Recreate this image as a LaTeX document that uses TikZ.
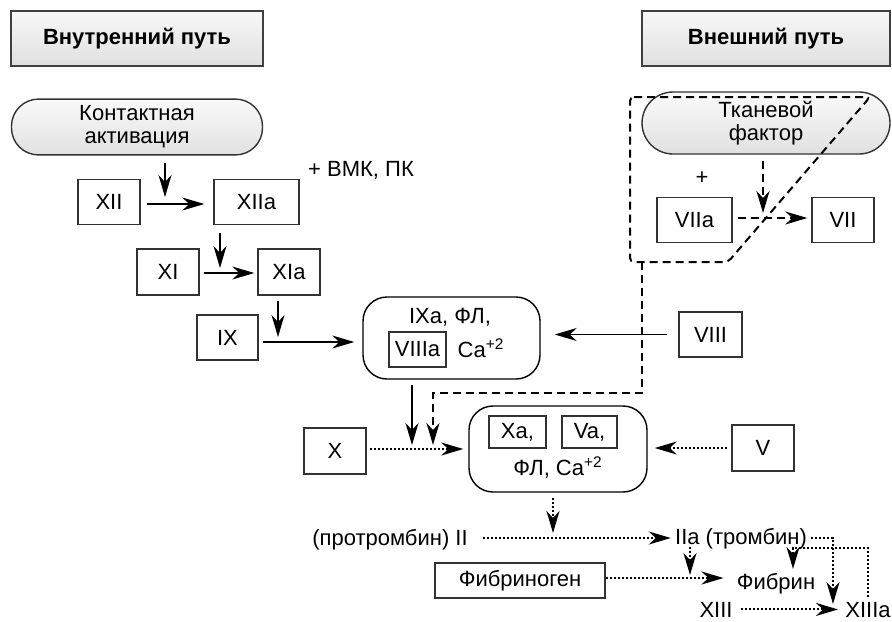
\documentclass[tikz,border=0pt]{standalone}
\usepackage{fontspec}
\setmainfont{Liberation Sans}
\usetikzlibrary{arrows.meta}

\newcommand{\fsz}{\fontsize{11}{11.5}\selectfont}

\tikzset{
  box/.style={draw=black!80, line width=0.7pt, minimum height=22.5pt, inner sep=0pt},
  hdr/.style={draw=black!75, line width=0.7pt, top color=black!3, bottom color=black!12,
              minimum height=27.5pt, font=\fsz\bfseries},
  pill/.style={draw=black!80, line width=0.7pt, top color=black!2, bottom color=black!12,
               minimum height=27.5pt, rounded corners=13.5pt, align=center},
  cplx/.style={draw=black, line width=0.7pt, rounded corners=12pt},
  lbl/.style={inner sep=2pt},
  arr/.style={-{Stealth[length=11pt, width=6.5pt, inset=3.5pt]}, line width=0.6pt},
  dotarr/.style={arr, line width=1pt, dash pattern=on 1pt off 1pt},
  dasharr/.style={arr, line width=1pt, dash pattern=on 4pt off 2.5pt},
  dashln/.style={line width=1pt, dash pattern=on 4pt off 2.5pt, rounded corners=2pt},
}

\begin{document}
\begin{tikzpicture}[x=0.5pt, y=-0.5pt, font=\fsz]

  \useasboundingbox (0,0) rectangle (892,621);

  % ================= headers =================
  \node[hdr, minimum width=126pt] (inner) at (137,38.5) {Внутренний путь};
  \node[hdr, minimum width=124pt] (outer) at (766,38.5) {Внешний путь};

  % ================= starting points =================
  \node[pill, minimum width=125.5pt] (contact) at (137,127) {Контактная\\активация};
  \node[pill, minimum width=124pt, minimum height=31pt, rounded corners=15.5pt]
      (tissue) at (766,123) {Тканевой\\фактор};

  % ================= intrinsic cascade =================
  \node[lbl] (bmk) at (361,170) {+ ВМК, ПК};
  \node[box, minimum width=31pt] (XII) at (109,202) {XII};
  \node[box, minimum width=42.5pt] (XIIa) at (256.5,202) {XIIa};
  \node[box, minimum width=31pt, minimum height=23pt] (XI) at (168,272) {XI};
  \node[box, minimum width=31pt, minimum height=23pt] (XIa) at (289,272) {XIa};
  \node[box, minimum width=30.5pt] (IX) at (227.5,337.5) {IX};

  % tenase complex
  \node[cplx, minimum width=88.5pt, minimum height=41pt] (tenase) at (451.5,338) {};
  \node[lbl] (tenaseTop) at (450,317) {IXa, ФЛ,};
  \node[box, minimum width=28.5pt, minimum height=17.5pt] (VIIIa) at (417.5,349.5) {VIIIa};
  \node[lbl, anchor=base] (tenaseCa) at (481,357) {Ca\textsuperscript{+2}};
  \node[box, minimum width=31.5pt] (VIII) at (710.5,334.5) {VIII};

  % ================= extrinsic pathway =================
  \node[lbl] (plus) at (702,178) {+};
  \node[box, minimum width=37.5pt] (VIIa) at (694.5,220) {VIIa};
  \node[box, minimum width=31pt] (VII) at (843,220) {VII};

  % ================= prothrombinase =================
  \node[box, minimum width=31pt, minimum height=23pt] (X) at (335,451) {X};
  \node[cplx, minimum width=89pt, minimum height=43pt] (prothr) at (558,449) {};
  \node[box, minimum width=28.5pt, minimum height=16pt] (Xa) at (517.5,432) {Xa,};
  \node[box, minimum width=27.5pt, minimum height=16pt] (Va) at (589.5,432) {Va,};
  \node[lbl, anchor=base] (prothrTxt) at (558,475) {ФЛ, Ca\textsuperscript{+2}};
  \node[box, minimum width=31pt, minimum height=23pt] (V) at (763,448) {V};

  % ================= common pathway =================
  \node[lbl, anchor=base] (II) at (390,545.5) {(протромбин) II};
  \node[lbl, anchor=base] (IIa) at (741,544.5) {IIa (тромбин)};
  \node[box, minimum width=85pt, minimum height=17.5pt] (fbg) at (520,580.5) {Фибриноген};
  \node[lbl, anchor=base] (fbn) at (776,589.5) {Фибрин};
  \node[lbl, anchor=base] (XIII) at (716,617) {XIII};
  \node[lbl, anchor=base] (XIIIa) at (868,617) {XIIIa};

  % ================= junctions =================
  \coordinate (j1) at (165,204);
  \coordinate (j2) at (220,273);
  \coordinate (j3) at (278,342);
  \coordinate (j4) at (412,449);
  \coordinate (j5) at (433,449);
  \coordinate (j6) at (553,538);
  \coordinate (j7) at (690,578);
  \coordinate (j8) at (833,604);
  \coordinate (j9) at (793,548);
  \coordinate (j10) at (763,218);
  \coordinate (fb) at (642,262);   % foot of the extrinsic frame
  \coordinate (kb) at (433,393);   % bend of the dashed branch

  % ================= solid arrows =================
  \draw[arr, shorten <=3.5pt, shorten >=3.5pt] (contact.south -| j1) -- (j1);
  \draw[arr, shorten <=3pt, shorten >=4.5pt] (XII.east |- j1) -- (XIIa.west |- j1);
  \draw[arr, shorten <=4pt, shorten >=2.5pt] (XIIa.south -| j2) -- (j2);
  \draw[arr, shorten <=2pt, shorten >=1.5pt] (XI.east |- j2) -- (XIa.west |- j2);
  \draw[arr, shorten <=2.5pt, shorten >=2.5pt] (XIa.south -| j3) -- (j3);
  \draw[arr, shorten <=2pt, shorten >=4pt] (IX.east |- j3) -- (tenase.west |- j3);
  \draw[arr, shorten <=5.5pt, shorten >=7pt] (VIII.west) -- (tenase.east |- VIII.west);
  \draw[arr, shorten <=2.5pt, shorten >=2pt] (tenase.south -| j4) -- (j4);

  % ================= extrinsic frame =================
  \draw[dashln] (630,97) -- (870,97) -- (728,262) -- (630,262) -- cycle;
  \draw[dasharr, shorten <=3pt, shorten >=2.5pt] (tissue.south -| j10) -- (j10);
  \draw[dasharr, shorten <=2.5pt, shorten >=2pt] (VIIa.east |- j10) -- (VII.west |- j10);
  \draw[dasharr, shorten >=2pt] (fb) |- (kb) -- (j5);

  % ================= dotted arrows =================
  \draw[dotarr, shorten <=1.5pt, shorten >=2.5pt] (X.east |- j4) -- (prothr.west |- j4);
  \draw[dotarr, shorten <=2pt, shorten >=3.5pt] (V.west) -- (prothr.east |- V.west);
  \draw[dotarr, shorten <=2.5pt, shorten >=2.5pt] (prothr.south -| j6) -- (j6);
  \draw[dotarr, shorten <=5.5pt] (II.east |- j6) -- (IIa.west |- j6);
  \draw[dotarr, shorten <=1pt, shorten >=1.5pt] (IIa.base -| j7) -- (j7);
  \draw[dotarr, shorten >=4.5pt] (fbg.east |- j7) -- (fbn.west |- j7);
  \draw[dotarr] (IIa.east |- j6) -| (j8);
  \draw[dotarr] (XIIIa.north) |- (j9) -- (j9 |- fbn.north);
  \draw[dotarr, shorten <=2pt, shorten >=1.5pt] (XIII.east) -- (XIII.east -| XIIIa.west);

\end{tikzpicture}
\end{document}
